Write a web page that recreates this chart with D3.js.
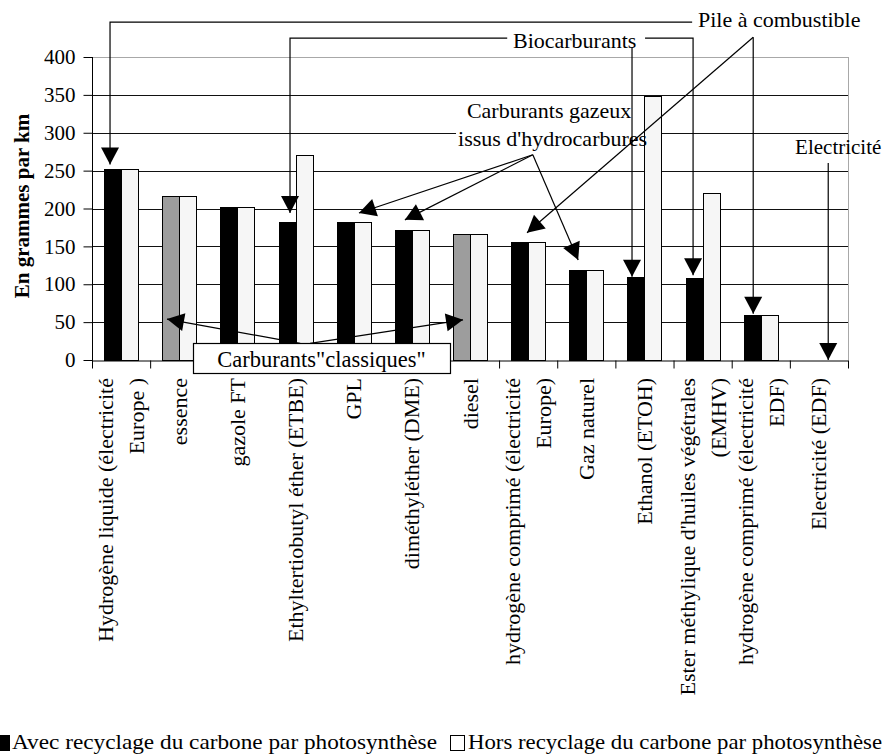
<!DOCTYPE html>
<html><head><meta charset="utf-8">
<script src="https://cdn.jsdelivr.net/npm/d3@7"></script>
<style>
body{margin:0;background:#fff}
svg{display:block}
svg text{font-family:"Liberation Serif","DejaVu Serif","Times New Roman",Times,serif !important;fill:#000}
</style>
</head><body>
<svg id="c" width="885" height="755"></svg>
<script>
// ---------- DATA ----------
const categories = [
  "Hydrogène liquide (électricité\nEurope )",
  "essence",
  "gazole FT",
  "Ethyltertiobutyl éther (ETBE)",
  "GPL",
  "diméthyléther (DME)",
  "diesel",
  "hydrogène comprimé (électricité\nEurope)",
  "Gaz naturel",
  "Ethanol (ETOH)",
  "Ester méthylique d'huiles végétrales\n(EMHV)",
  "hydrogène comprimé (électricité\nEDF)",
  "Electricité (EDF)"
];
const seriesKeys = ["avec", "hors"];
const seriesNames = ["Avec recyclage du carbone par photosynthèse", "Hors recyclage du carbone par photosynthèse"];
const avecValues = [252, 217, 202, 182, 182, 171, 166, 156, 119, 110, 108, 60, 0];
const horsValues = [252, 217, 202, 270, 182, 171, 166, 156, 119, 348, 220, 60, 0];
const classiques = ["essence", "diesel"];
const yTicks = [0, 50, 100, 150, 200, 250, 300, 350, 400];
const yTitle = "En grammes par km";

// annotations in data space: [category index position, value]
const annotationTexts = [
  {text: "Pile à combustible", at: [10.42, 449], anchor: "start", size: 22},
  {text: "Biocarburants", at: [8.30, 422], anchor: "middle", size: 22},
  {text: "Carburants gazeux", at: [7.86, 329], anchor: "middle", boxed: true, size: 22},
  {text: "issus d'hydrocarbures", at: [7.92, 293], anchor: "middle", boxed: true, size: 22},
  {text: "Electricité", at: [12.09, 281], anchor: "start", size: 21}
];
const annotationArrows = [
  [[10.32, 446], [0.31, 446], [0.31, 258]],
  [[11.37, 426], [7.48, 168]],
  [[11.37, 426], [11.37, 61]],
  [[7.14, 425], [3.405, 425], [3.405, 194]],
  [[9.51, 425], [10.336, 425], [10.336, 112]],
  [[9.286, 413], [9.286, 110]],
  [[7.58, 271], [4.59, 194]],
  [[7.58, 271], [5.38, 185]],
  [[7.58, 271], [8.36, 132]],
  [[12.66, 260], [12.66, 0]],
  [[3.58, 22], [1.29, 54]],
  [[3.75, 22], [6.38, 53]]
];
const classiquesBox = {text: "Carburants\"classiques\"", from: [1.737, 22.4], to: [6.157, -17.2]};

// ---------- LAYOUT ----------
const svg = d3.select("#c");
const plot = {left: 92, right: 848, top: 57, bottom: 360};
const x0 = d3.scaleBand().domain(d3.range(categories.length)).range([plot.left, plot.right]).padding(0);
const x1 = d3.scaleBand().domain(seriesKeys).range([0, x0.bandwidth()]).paddingInner(0).paddingOuter(0.71);
const y = d3.scaleLinear().domain([0, 400]).range([plot.bottom, plot.top]);
const xi = d3.scaleLinear().domain([0, categories.length]).range([plot.left, plot.right]);
const FONT = '"Liberation Serif","DejaVu Serif",serif';

const gridG = svg.append("g");
const bgG = svg.append("g");
const barG = svg.append("g");
const axisG = svg.append("g");
const annG = svg.append("g");

// grid
gridG.selectAll("line").data(yTicks.filter(d => d > 0)).join("line")
  .attr("x1", plot.left).attr("x2", plot.right)
  .attr("y1", d => Math.round(y(d)) + 0.5).attr("y2", d => Math.round(y(d)) + 0.5)
  .attr("stroke", d => d === 400 ? "#a8a8a8" : "#111").attr("stroke-width", 1);
gridG.append("line").attr("x1", plot.right + 0.5).attr("x2", plot.right + 0.5)
  .attr("y1", y(400)).attr("y2", plot.bottom).attr("stroke", "#a8a8a8");

// bars
const barData = categories.flatMap((c, i) => [
  {i, key: "avec", v: avecValues[i], c},
  {i, key: "hors", v: horsValues[i], c}
]).filter(d => d.v > 0);
barG.selectAll("rect").data(barData).join("rect")
  .attr("x", d => Math.round(x0(d.i) + x1(d.key)) + 0.5)
  .attr("width", Math.round(x1.bandwidth()))
  .attr("y", d => Math.round(y(d.v)) + 0.5)
  .attr("height", d => Math.round(y(0)) - Math.round(y(d.v)))
  .attr("fill", d => d.key === "hors" ? "#f6f6f6" : (classiques.includes(d.c) ? "#9d9d9d" : "#000"))
  .attr("stroke", "#000").attr("stroke-width", 1);

// y axis
const ya = axisG.append("g").attr("transform", `translate(${plot.left + 0.5},0)`)
  .call(d3.axisLeft(y).tickValues(yTicks).tickSize(9).tickSizeOuter(0).tickPadding(8));
ya.attr("font-family", FONT);
ya.select(".domain").remove();
ya.selectAll(".tick line").attr("stroke", "#000");
ya.selectAll("text").attr("font-size", 21).attr("fill", "#000");
axisG.append("line").attr("x1", plot.left + 0.5).attr("x2", plot.left + 0.5)
  .attr("y1", y(400)).attr("y2", plot.bottom + 8).attr("stroke", "#000");

// x axis
const xa = axisG.append("g").attr("transform", `translate(0,${Math.round(y(0)) + 0.5})`)
  .call(d3.axisBottom(xi).tickValues(d3.range(categories.length + 1)).tickSize(8).tickSizeOuter(0).tickFormat(() => ""));
xa.select(".domain").attr("stroke", "#000");
xa.selectAll(".tick line").attr("stroke", "#000");

// x labels
const lg = axisG.append("g").selectAll("g").data(categories).join("g")
  .attr("transform", (d, i) => `translate(${x0(i) + x0.bandwidth() / 2},378) rotate(-90)`);
lg.each(function(d) {
  const lines = d.split("\n");
  const t = d3.select(this).append("text").attr("text-anchor", "end").attr("font-size", 22);
  lines.forEach((l, k) => {
    t.append("tspan").attr("x", 0).attr("y", (k - (lines.length - 1) / 2) * 31)
      .attr("dominant-baseline", "central").text(l);
  });
});

// y title
svg.append("text").attr("transform", `translate(22,206) rotate(-90)`)
  .attr("text-anchor", "middle").attr("dominant-baseline", "central")
  .attr("font-weight", "bold").attr("font-size", 21).text(yTitle);

// annotations
const defs = svg.append("defs");
defs.append("marker").attr("id", "ah").attr("markerUnits", "userSpaceOnUse")
  .attr("markerWidth", 22).attr("markerHeight", 22).attr("viewBox", "-20 -11 22 22")
  .attr("refX", 0).attr("refY", 0).attr("orient", "auto")
  .append("path").attr("d", "M0,0L-17,-9L-17,9Z").attr("fill", "#000");
const line = d3.line().x(d => xi(d[0])).y(d => y(d[1]));
annG.selectAll("path.arrow").data(annotationArrows).join("path").attr("class", "arrow")
  .attr("d", line).attr("fill", "none").attr("stroke", "#000").attr("stroke-width", 1.2)
  .attr("marker-end", "url(#ah)");

const at = annG.selectAll("text.ann").data(annotationTexts).join("text").attr("class", "ann")
  .attr("x", d => xi(d.at[0])).attr("y", d => y(d.at[1]))
  .attr("text-anchor", d => d.anchor).attr("dominant-baseline", "central")
  .attr("font-size", d => d.size).text(d => d.text);
// white background behind boxed texts (hides gridlines)
const boxes = [];
at.filter(d => d.boxed).each(function() { boxes.push(this.getBBox()); });
if (boxes.length) {
  const bx0 = d3.min(boxes, b => b.x) - 2, bx1 = d3.max(boxes, b => b.x + b.width) + 2;
  const by0 = d3.min(boxes, b => b.y), by1 = d3.max(boxes, b => b.y + b.height);
  bgG.append("rect").attr("x", bx0).attr("y", by0).attr("width", bx1 - bx0).attr("height", by1 - by0).attr("fill", "#fff");
}

// classiques box
const cbx = xi(classiquesBox.from[0]), cby = y(classiquesBox.from[1]);
const cbw = xi(classiquesBox.to[0]) - cbx, cbh = y(classiquesBox.to[1]) - cby;
annG.append("rect").attr("x", Math.round(cbx) + 0.5).attr("y", Math.round(cby) + 0.5)
  .attr("width", Math.round(cbw)).attr("height", Math.round(cbh))
  .attr("fill", "#fff").attr("stroke", "#000").attr("stroke-width", 1.2);
annG.append("text").attr("x", cbx + cbw / 2).attr("y", cby + cbh / 2 + 1)
  .attr("text-anchor", "middle").attr("dominant-baseline", "central").attr("font-size", 22.5)
  .text(classiquesBox.text);

// legend
const leg = svg.append("g");
leg.append("rect").attr("x", 0).attr("y", 735).attr("width", 10).attr("height", 16).attr("fill", "#000");
leg.append("text").attr("x", 12).attr("y", 749).attr("font-size", 22)
  .attr("textLength", 425).attr("lengthAdjust", "spacingAndGlyphs").text(seriesNames[0]);
leg.append("rect").attr("x", 450.5).attr("y", 735.5).attr("width", 14).attr("height", 15)
  .attr("fill", "#fff").attr("stroke", "#000");
leg.append("text").attr("x", 468).attr("y", 749).attr("font-size", 22)
  .attr("textLength", 414).attr("lengthAdjust", "spacingAndGlyphs").text(seriesNames[1]);
</script>
</body></html>
